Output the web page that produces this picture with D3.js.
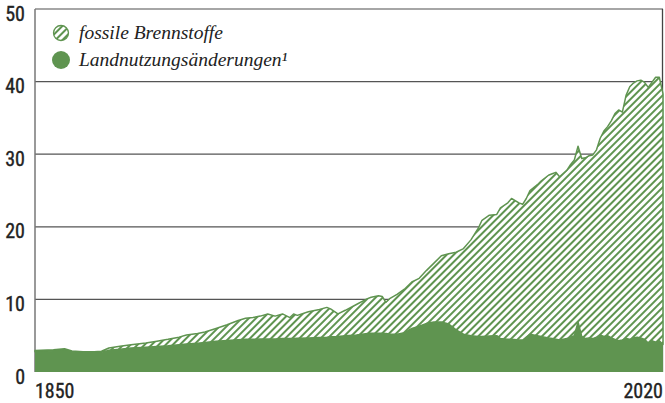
<!DOCTYPE html>
<html>
<head>
<meta charset="utf-8">
<script src="https://cdn.jsdelivr.net/npm/d3@7"></script>
<style>
  body { margin: 0; background: #fff; }
  svg { display: block; }
  .tick-label { font-family: "Liberation Sans Narrow", "Roboto Condensed", "DejaVu Sans Condensed", sans-serif; font-size: 20px; fill: #222; stroke: #222; stroke-width: 0.35px; }
  .legend-text { font-family: "Liberation Serif", "DejaVu Serif", serif; font-style: italic; font-size: 19.5px; fill: #222; }
</style>
</head>
<body>
<div id="chart"></div>
<script>
// Jahre und Werte (Gt CO2)
var years = [1850,1855,1858,1860,1863,1866,1868,1870,1873,1876,1880,1883,1886,1889,1891,1894,1896,1899,
  1902,1905,1907,1909,1911,1913,1915,1917,1919,1920,1921,1924,1927,1929,1930,1932,1934,1937,1940,1941,
  1943,1944,1945,1946,1948,1950,1952,1954,1956,1958,1960,1962,1964,1966,1968,1970,1971,1973,1975,1976,
  1978,1979,1981,1982,1983,1984,1986,1987,1989,1990,1991,1992,1994,1995,1996,1997,1998,1999,2000,2001,
  2002,2003,2004,2005,2006,2007,2008,2009,2010,2011,2012,2013,2014,2015,2016,2017,2018,2019,2020]

var landUse = [2.8,2.9,3.0,2.75,2.65,2.65,2.7,3.0,3.15,3.3,3.4,3.5,3.6,3.75,3.85,3.95,4.05,4.25,
  4.35,4.45,4.5,4.5,4.55,4.55,4.55,4.6,4.6,4.6,4.65,4.7,4.75,4.8,4.85,4.9,5.0,5.1,5.3,5.35,
  5.35,5.35,5.3,5.25,5.2,5.4,6.0,6.3,6.7,6.9,6.9,6.6,5.8,5.2,5.0,4.9,4.9,4.95,5.0,4.6,
  4.5,4.5,4.4,4.4,4.8,5.2,5.0,4.9,4.7,4.6,4.5,4.4,4.6,4.8,5.0,6.9,4.9,4.6,4.7,4.6,
  4.8,5.1,4.9,5.0,4.7,4.5,4.3,4.4,4.6,4.5,4.7,4.8,4.7,4.5,4.0,4.3,4.1,4.3,3.8]

var fossil = [0.15,0.15,0.2,0.15,0.15,0.15,0.15,0.3,0.4,0.45,0.6,0.75,0.9,1.05,1.25,1.35,1.45,1.75,
  2.15,2.65,2.9,3.0,3.15,3.45,3.15,3.4,2.9,3.4,3.15,3.6,3.85,4.1,3.85,3.1,3.5,4.2,4.8,4.95,
  5.15,5.05,4.3,4.85,5.5,6.0,6.4,6.6,7.3,8.1,9.1,9.7,10.7,11.8,13.2,14.9,16.0,16.65,16.7,18.0,
  18.8,19.4,18.9,18.7,19.1,19.8,20.8,21.4,22.4,22.7,23.0,22.5,23.2,23.8,24.2,24.2,24.5,24.9,25.1,25.3,
  25.8,27.1,28.3,28.8,29.9,31.1,31.8,31.4,33.5,34.8,35.1,35.3,35.5,35.4,35.2,35.6,36.5,36.3,34.5]

var yTicks = [0,10,20,30,40,50]
var xLabels = [1850,2020]
var legendLabels = ["fossile Brennstoffe","Landnutzungsänderungen\u00b9"]

var width = 665, height = 403
var margin = {top:9, right:2, bottom:31, left:35}
var green = "#5f9450"

var svg = d3.select("#chart").append("svg")
  .attr("width",width).attr("height",height)

var defs = svg.append("defs")
var pat = defs.append("pattern").attr("id","hatch")
  .attr("patternUnits","userSpaceOnUse")
  .attr("width",5).attr("height",5)
  .attr("patternTransform","rotate(45)")
pat.append("rect").attr("width",5).attr("height",5).attr("fill","#fff")
pat.append("line").attr("x1",1).attr("y1",0).attr("x2",1).attr("y2",5)
  .attr("stroke",green).attr("stroke-width",2)

var x = d3.scaleLinear().domain([1850,2020]).range([margin.left,width-margin.right])
var y = d3.scaleLinear().domain([0,50]).range([height-margin.bottom,margin.top])

var data = years.map((yr,i)=>({year:yr, land:landUse[i], fossil:fossil[i]}))
var stack = d3.stack().keys(["land","fossil"])
var series = stack(data)

// gridlines
svg.selectAll(".grid").data(yTicks.filter(d=>d>0 && d<50)).enter().append("line")
  .attr("x1",x(1850)).attr("x2",x(2020))
  .attr("y1",d=>y(d)).attr("y2",d=>y(d))
  .attr("stroke","#555").attr("stroke-width",1.3)

// frame
svg.append("line").attr("x1",x(1850)).attr("x2",x(2020)).attr("y1",y(50)).attr("y2",y(50))
  .attr("stroke","#888").attr("stroke-width",1.5)
svg.append("line").attr("x1",x(1850)).attr("x2",x(1850)).attr("y1",y(50)).attr("y2",y(0))
  .attr("stroke","#777").attr("stroke-width",1.5)
svg.append("line").attr("x1",x(2020)-0.5).attr("x2",x(2020)-0.5).attr("y1",y(50)).attr("y2",y(0))
  .attr("stroke","#444").attr("stroke-width",1.3)

var area = d3.area().x(d=>x(d.data.year)).y0(d=>y(d[0])).y1(d=>y(d[1]))

svg.append("path").datum(series[1]).attr("d",area)
  .attr("fill","url(#hatch)").attr("stroke",green).attr("stroke-width",1.5)
  .attr("stroke-linejoin","round")
svg.append("path").datum(series[0]).attr("d",area)
  .attr("fill",green)

// y labels
svg.selectAll(".ylab").data(yTicks).enter().append("text")
  .attr("class","tick-label")
  .attr("x",25).attr("y",d=>y(d)+11.5)
  .attr("text-anchor","end")
  .text(d=>d)

// x labels
svg.selectAll(".xlab").data(xLabels).enter().append("text")
  .attr("class","tick-label")
  .attr("x",d=>x(d)).attr("y",398)
  .attr("text-anchor",(d,i)=>i==0?"start":"end")
  .text(d=>d)

// legend
var leg = svg.selectAll(".leg").data(legendLabels).enter().append("g")
  .attr("transform",(d,i)=>"translate(61,"+(33+i*27)+")")
leg.append("circle").attr("r",(d,i)=>i==0?7.5:9)
  .attr("fill",(d,i)=>i==0?"url(#hatch)":green)
  .attr("stroke",(d,i)=>i==0?green:"none").attr("stroke-width",1.3)
leg.append("text").attr("class","legend-text")
  .attr("x",18).attr("y",6)
  .text(d=>d)
</script>
</body>
</html>
